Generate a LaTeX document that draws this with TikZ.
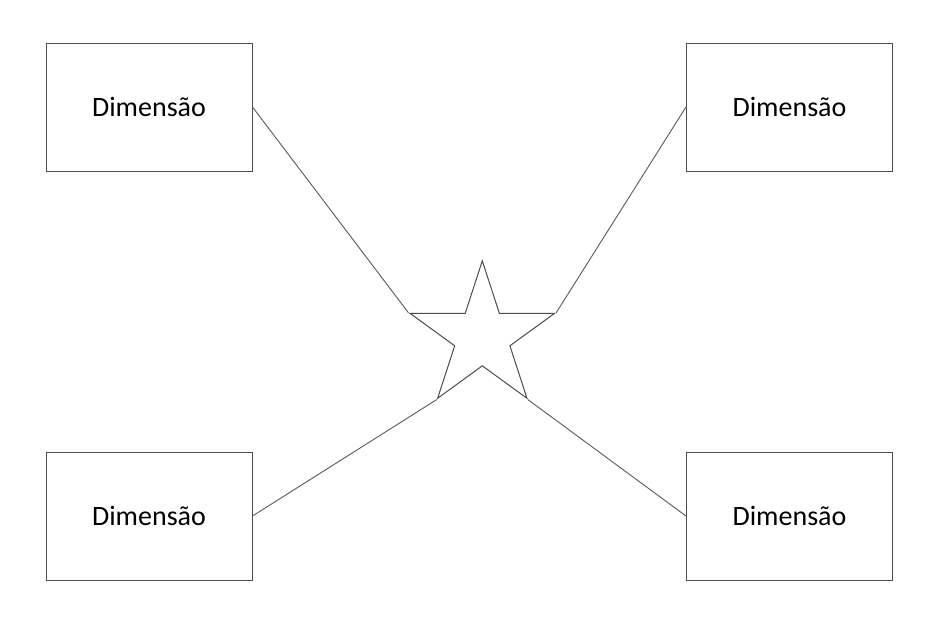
\documentclass[tikz,border=0pt]{standalone}
\usepackage{fontspec}
\setmainfont{Carlito}
\usetikzlibrary{shapes.geometric}

\begin{document}
\begin{tikzpicture}[x=1pt, y=-1pt,
        dim/.style={draw=black!70, line width=1pt, minimum width=206pt, minimum height=128pt, font=\fontsize{28}{34}\selectfont},
        link/.style={draw=black!65, line width=0.9pt}]
        \useasboundingbox (0, 0) rectangle (940, 621);

        \node[dim] (D1) at (149, 107) {Dimensão};
        \node[dim] (D2) at (789.5, 107) {Dimensão};
        \node[dim] (D3) at (149, 516) {Dimensão};
        \node[dim] (D4) at (789.5, 516) {Dimensão};

        \node[star, star points=5, star point ratio=2.618, minimum size=152pt, inner sep=0pt, draw=black!70, line width=1pt] (F) at (482.3, 336.8) {};

        \draw[link] (D1.east) -- (F.outer point 2);
        \draw[link] (D2.west) -- (F.outer point 5);
        \draw[link] (D3.east) -- (F.outer point 3);
        \draw[link] (D4.west) -- (F.outer point 4);

    \end{tikzpicture}
\end{document}
